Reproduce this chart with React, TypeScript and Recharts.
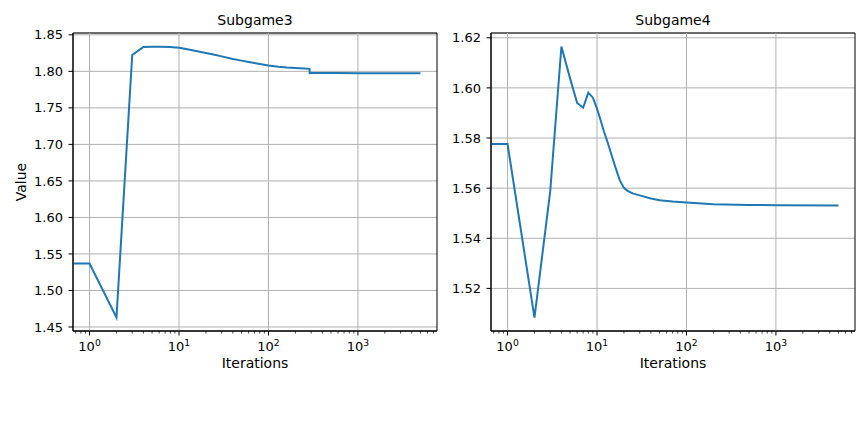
import React from 'react';
import { LineChart, Line, XAxis, YAxis, CartesianGrid, ReferenceArea, ReferenceLine } from 'recharts';

// ---- Data ----
const iters3 = [0, 1, 2, 3, 4, 5, 6, 8, 10, 12, 15, 20, 25, 30, 40, 50, 60, 80, 100, 130, 160, 200, 250, 288, 289, 290, 400, 600, 1000, 2000, 5000];
const values3 = [1.537, 1.537, 1.4632, 1.8223, 1.8333, 1.8336, 1.8337, 1.8334, 1.8322, 1.8305, 1.8282, 1.8252, 1.8226, 1.8205, 1.817, 1.8147, 1.8128, 1.81, 1.808, 1.8062, 1.8052, 1.8045, 1.8038, 1.8034, 1.7963, 1.7981, 1.7979, 1.7977, 1.7975, 1.7974, 1.7973];

const iters4 = [0, 1, 2, 3, 4, 5, 6, 7, 8, 9, 10, 11, 12, 13, 14, 16, 18, 20, 22, 25, 30, 40, 50, 70, 100, 200, 500, 1000, 5000];
const values4 = [1.5776, 1.5776, 1.5083, 1.5588, 1.6165, 1.6038, 1.594, 1.5921, 1.5981, 1.5961, 1.5917, 1.587, 1.5824, 1.5788, 1.5751, 1.5685, 1.5631, 1.5601, 1.5589, 1.5579, 1.5571, 1.5559, 1.5552, 1.5547, 1.5543, 1.5536, 1.5533, 1.5532, 1.5531];

const yTicks3 = [1.45, 1.5, 1.55, 1.6, 1.65, 1.7, 1.75, 1.8, 1.85];
const yTicks4 = [1.52, 1.54, 1.56, 1.58, 1.6, 1.62];
const xMajor = [1, 10, 100, 1000];
const xMinorMult = [2, 3, 4, 5, 6, 7, 8, 9];

const titles = ['Subgame3', 'Subgame4'];
const xLabel = 'Iterations';
const yLabel = 'Value';

// ---- Layout constants ----
const X_DOMAIN: [number, number] = [Math.pow(10, -0.185), Math.pow(10, 3.884)];
const Y_DOMAIN3: [number, number] = [1.4445, 1.8525];
const Y_DOMAIN4: [number, number] = [1.503, 1.6219];
const FONT = 'DejaVu Sans, Verdana, sans-serif';
const BLUE = '#1f77b4';

const allXTicks: number[] = (() => {
  const t: number[] = [];
  for (let k = -1; k <= 3; k++) {
    const base = Math.pow(10, k);
    if (k >= 0) t.push(base);
    for (const m of xMinorMult) {
      const v = m * base;
      if (v >= X_DOMAIN[0] && v <= X_DOMAIN[1]) t.push(v);
    }
  }
  return t.sort((a, b) => a - b);
})();

function buildData(iters: number[], vals: number[]) {
  // iteration 0 is clipped to the left edge of the log axis (as matplotlib does)
  return iters.map((it, i) => ({ x: it <= 0 ? X_DOMAIN[0] : it, v: vals[i] }));
}

const data3 = buildData(iters3, values3);
const data4 = buildData(iters4, values4);

const LogTick = (props: any) => {
  const { x, y, payload } = props;
  const v = payload.value as number;
  const e = Math.log10(v);
  const isMajor = Math.abs(e - Math.round(e)) < 1e-6;
  return (
    <g>
      <line x1={x} x2={x} y1={y} y2={y + (isMajor ? 4.5 : 2.6)} stroke="#000" strokeWidth={isMajor ? 1 : 0.7} />
      {isMajor && (
        <text x={x} y={y + 20} textAnchor="middle" fontSize={13} fontFamily={FONT} fill="#000">
          10
          <tspan dy={-5} fontSize={9.2}>{Math.round(e)}</tspan>
        </text>
      )}
    </g>
  );
};

type PanelProps = {
  data: { x: number; v: number }[];
  yDomain: [number, number];
  yTicks: number[];
  left: number;
  width: number;
  yAxisWidth: number;
  marginRight: number;
};

const Panel = ({ data, yDomain, yTicks, left, width, yAxisWidth, marginRight }: PanelProps) => (
  <div style={{ position: 'absolute', left, top: 0 }}>
    <LineChart width={width} height={434} data={data} margin={{ top: 33, right: marginRight, bottom: 73, left: 0 }}>
      <CartesianGrid stroke="#b0b0b0" strokeWidth={1} vertical={false} />
      {xMajor.map((v) => (
        <ReferenceLine key={v} x={v} stroke="#b0b0b0" strokeWidth={1} />
      ))}
      <XAxis
        dataKey="x"
        type="number"
        scale="log"
        domain={X_DOMAIN}
        allowDataOverflow
        ticks={allXTicks}
        interval={0}
        tickSize={0}
        tickMargin={0}
        tickLine={false}
        tick={<LogTick />}
        axisLine={{ stroke: '#000', strokeWidth: 1 }}
        height={30}
      />
      <YAxis
        type="number"
        domain={yDomain}
        allowDataOverflow
        ticks={yTicks}
        interval={0}
        tickFormatter={(v: number) => v.toFixed(2)}
        tickSize={4.5}
        tickMargin={5.5}
        tickLine={{ stroke: '#000', strokeWidth: 1 }}
        axisLine={{ stroke: '#000', strokeWidth: 1 }}
        tick={{ fill: '#000', fontSize: 13, fontFamily: FONT }}
        width={yAxisWidth}
      />
      <Line type="linear" dataKey="v" stroke={BLUE} strokeWidth={2} dot={false} isAnimationActive={false} />
      <ReferenceArea
        x1={X_DOMAIN[0]}
        x2={X_DOMAIN[1]}
        y1={yDomain[0]}
        y2={yDomain[1]}
        fill="none"
        fillOpacity={0}
        stroke="#000"
        strokeWidth={1}
        ifOverflow="visible"
      />
    </LineChart>
  </div>
);

export default function App() {
  return (
    <div style={{ position: 'absolute', left: 0, top: 0, width: 868, height: 434, background: '#fff' }}>
      <Panel data={data3} yDomain={Y_DOMAIN3} yTicks={yTicks3} left={0} width={440} yAxisWidth={73} marginRight={3} />
      <Panel data={data4} yDomain={Y_DOMAIN4} yTicks={yTicks4} left={440} width={428} yAxisWidth={51} marginRight={13} />
      <svg width={868} height={434} style={{ position: 'absolute', left: 0, top: 0, pointerEvents: 'none' }}>
        <text x={255} y={25} textAnchor="middle" fontSize={14} fontFamily={FONT} fill="#000">{titles[0]}</text>
        <text x={673} y={25} textAnchor="middle" fontSize={14} fontFamily={FONT} fill="#000">{titles[1]}</text>
        <text x={255} y={368} textAnchor="middle" fontSize={14} fontFamily={FONT} fill="#000">{xLabel}</text>
        <text x={673} y={368} textAnchor="middle" fontSize={14} fontFamily={FONT} fill="#000">{xLabel}</text>
        <text x={26} y={182} textAnchor="middle" fontSize={14} fontFamily={FONT} fill="#000" transform="rotate(-90, 26, 182)">{yLabel}</text>
      </svg>
    </div>
  );
}
